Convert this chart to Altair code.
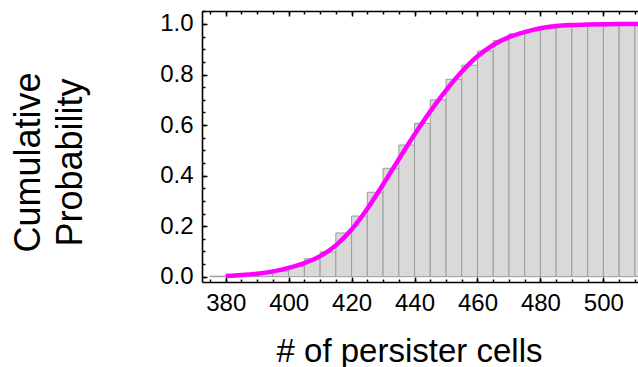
import altair as alt
import pandas as pd

# ---- data ----
bin_starts = [375, 380, 385, 390, 395, 400, 405, 410, 415, 420, 425, 430, 435, 440,
              445, 450, 455, 460, 465, 470, 475, 480, 485, 490, 495, 500, 505, 510]
bin_ends = [380, 385, 390, 395, 400, 405, 410, 415, 420, 425, 430, 435, 440, 445,
            450, 455, 460, 465, 470, 475, 480, 485, 490, 495, 500, 505, 510, 515]
bin_heights = [0.002, 0.003, 0.006, 0.013, 0.022, 0.042, 0.071, 0.098, 0.173, 0.240,
               0.334, 0.429, 0.521, 0.607, 0.700, 0.781, 0.837, 0.893, 0.935, 0.961,
               0.975, 0.984, 0.989, 0.993, 0.996, 0.997, 0.998, 0.999]

curve_x = [380, 385, 390, 395, 400, 405, 410, 415, 420, 425, 430, 435, 440, 445,
           450, 455, 460, 465, 470, 475, 480, 485, 490, 495, 500, 505, 512]
curve_p = [0.003, 0.0065, 0.012, 0.021, 0.035, 0.054, 0.0815, 0.124, 0.1865, 0.269,
           0.365, 0.465, 0.5625, 0.654, 0.7375, 0.811, 0.872, 0.917, 0.948, 0.968,
           0.983, 0.992, 0.996, 0.998, 0.999, 1.0, 1.0]

x_major = [380, 400, 420, 440, 460, 480, 500]
x_minor = [375, 380, 385, 390, 395, 400, 405, 410, 415, 420, 425, 430, 435, 440, 445,
           450, 455, 460, 465, 470, 475, 480, 485, 490, 495, 500, 505, 510]
y_major = [0.0, 0.2, 0.4, 0.6, 0.8, 1.0]
y_minor = [0.0, 0.05, 0.1, 0.15, 0.2, 0.25, 0.3, 0.35, 0.4, 0.45, 0.5, 0.55, 0.6, 0.65,
           0.7, 0.75, 0.8, 0.85, 0.9, 0.95, 1.0, 1.05]

bars = pd.DataFrame({"start": bin_starts, "end": bin_ends, "p": bin_heights, "zero": 0.0})
curve = pd.DataFrame({"v": curve_x, "p": curve_p})

FONT = "Liberation Sans"
xs = alt.Scale(domain=[372.47, 511.0], nice=False, zero=False)
ys = alt.Scale(domain=[-0.021, 1.0514], nice=False, zero=False)

common = dict(grid=False, domainColor="black", tickColor="black", domainWidth=1.6,
              tickWidth=1.5, labelColor="black", titleColor="black")

x_bottom_major = alt.Axis(orient="bottom", values=x_major, format="d", labelFontSize=24,
                          labelFont=FONT, labelPadding=14, tickSize={"expr": "-5"},
                          labelFlush=False, labelOverlap=False,
                          title="# of persister cells", titleFont=FONT, titleFontSize=33,
                          titleFontWeight="normal", titleX=207, titleY=79,
                          titleBaseline="alphabetic", titleAlign="center", **common)
x_bottom_minor = alt.Axis(orient="bottom", values=x_minor, labels=False, domain=False,
                          tickSize={"expr": "-3"}, title=None, **common)
x_top_major = alt.Axis(orient="top", values=x_major, labels=False, domain=True,
                       tickSize={"expr": "-5"}, title=None, **common)
x_top_minor = alt.Axis(orient="top", values=x_minor, labels=False, domain=False,
                       tickSize={"expr": "-3"}, title=None, **common)

y_left_major = alt.Axis(orient="left", values=y_major, format=".1f", labelFontSize=24,
                        labelFont=FONT, labelPadding=14, tickSize={"expr": "-5"},
                        labelFlush=False, labelOverlap=False,
                        title=["Cumulative", "Probability"], titleFont=FONT,
                        titleFontSize=36, titleFontWeight="normal", titleLineHeight=42,
                        titleAngle=270, titleBaseline="top", titleAlign="center",
                        titleX=-190.5, titleY=151, **common)
y_left_minor = alt.Axis(orient="left", values=y_minor, labels=False, domain=False,
                        tickSize={"expr": "-3"}, title=None, **common)

bar_layer = alt.Chart(bars).mark_rect(
    fill="#d9d9d9", stroke="#9c9c9c", strokeWidth=1, clip=True
).encode(
    x=alt.X("start:Q", scale=xs, axis=x_bottom_major),
    x2="end:Q",
    y=alt.Y("p:Q", scale=ys, axis=y_left_major),
    y2="zero:Q",
)

line_layer = alt.Chart(curve).mark_line(
    color="#ff00ff", strokeWidth=4.5, interpolate="monotone", clip=True
).encode(
    x=alt.X("v:Q", scale=xs, axis=x_bottom_minor),
    y=alt.Y("p:Q", scale=ys, axis=y_left_minor),
)

top_major_layer = alt.Chart(curve).mark_line(opacity=0, clip=True).encode(
    x=alt.X("v:Q", scale=xs, axis=x_top_major),
    y=alt.Y("p:Q", scale=ys, axis=None),
)
top_minor_layer = alt.Chart(curve).mark_line(opacity=0, clip=True).encode(
    x=alt.X("v:Q", scale=xs, axis=x_top_minor),
    y=alt.Y("p:Q", scale=ys, axis=None),
)

chart = alt.layer(bar_layer, line_layer, top_major_layer, top_minor_layer).resolve_axis(
    x="independent", y="independent"
).properties(
    width=436, height=271,
    autosize=alt.AutoSizeParams(type="none"),
    padding={"left": 202, "top": 11, "right": 0, "bottom": 85},
    background="white",
).configure_view(stroke=None)

chart.save("out.html", embed_options={"renderer": "svg", "actions": False})
